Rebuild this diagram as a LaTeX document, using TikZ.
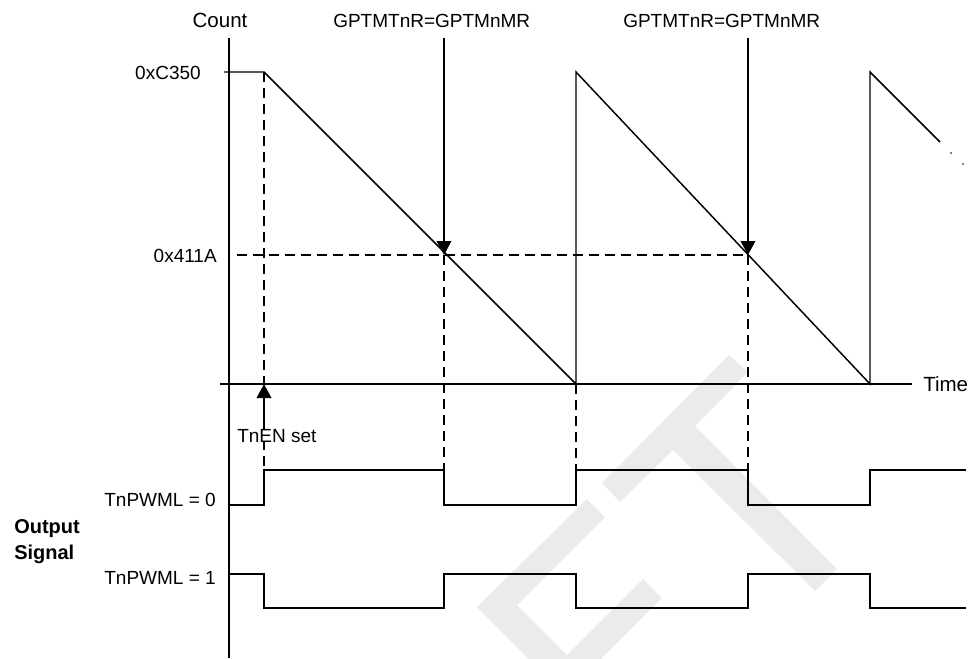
\documentclass[tikz,border=0pt]{standalone}
\usepackage{fontspec}
\setmainfont{Liberation Sans}
\usetikzlibrary{arrows.meta}
\definecolor{wm}{RGB}{235,235,235}
\begin{document}
\begin{tikzpicture}[x=0.75pt,y=-0.75pt,
  wave/.style={line width=1.1pt, line join=miter},
  guide/.style={line width=1.1pt, dash pattern=on 7.5pt off 4.5pt},
  marker/.style={line width=1.1pt, -{Triangle[length=10.5pt,width=11pt]}},
  lbl/.style={inner sep=0pt, font=\fontsize{14.25pt}{17pt}\selectfont},
  biglbl/.style={inner sep=0pt, font=\fontsize{15.4pt}{18pt}\selectfont},
  boldlbl/.style={inner sep=0pt, font=\bfseries\fontsize{15pt}{18pt}\selectfont}]
\useasboundingbox (0,0) rectangle (972,658);
\clip (0,0) rectangle (972,658);
% watermark
\fill[wm] (477,607) -- (587,499) -- (605,517) -- (517,605) -- (567,655)
  -- (643,579) -- (662,598) -- (565,695) -- cycle;
\fill[wm] (602,483) -- (729,355) -- (748,372) -- (695,426) -- (837,569)
  -- (815,591) -- (673,450) -- (620,502) -- cycle;
% key coordinates
\coordinate (cTop) at (229,38);
\coordinate (cBot) at (229,658);
\coordinate (tL) at (220,384);
\coordinate (tR) at (912,384);
\coordinate (tick) at (224,72);
\coordinate (s0) at (264,72);
\coordinate (z1) at (576,384);
\coordinate (p1) at (576,72);
\coordinate (z2) at (870,384);
\coordinate (p2) at (870,72);
\coordinate (e3) at (940,142);
\coordinate (m1) at (444,255);
\coordinate (m2) at (748,255);
\coordinate (m1top) at (444,38);
\coordinate (m2top) at (748,38);
\coordinate (hL) at (237,255);
\coordinate (en) at (264,384);
\coordinate (enTail) at (264,425);
% axes
\draw[wave] (cTop) -- (cBot);
\draw[wave] (tL) -- (tR);
% guides
\draw[guide] (s0) -- (264,470);
\draw[guide] (hL) -- (m2);
\draw[guide] (m1) -- (444,470);
\draw[guide] (z1) -- (576,470);
\draw[guide] (m2) -- (748,470);
% sawtooth
\draw[wave] (tick) -- (s0) -- (z1) -- (p1) -- (z2) -- (p2) -- (e3);
\fill (951,153) circle[radius=0.9];
\fill (963,164) circle[radius=0.9];
% match markers
\draw[marker] (m1top) -- (m1);
\draw[marker] (m2top) -- (m2);
% TnEN set
\node[lbl, anchor=base west, fill=white] (ten) at (237,442) {TnEN set};
\draw[marker] (enTail) -- (en);
% PWM outputs
\draw[wave] (229,505) -- (264,505) -- (264,470) -- (444,470) -- (444,505) -- (576,505)
  -- (576,470) -- (748,470) -- (748,505) -- (870,505) -- (870,470) -- (966,470);
\draw[wave] (229,574) -- (264,574) -- (264,608) -- (444,608) -- (444,574) -- (576,574)
  -- (576,608) -- (748,608) -- (748,574) -- (870,574) -- (870,608) -- (966,608);
% labels
\node[biglbl, anchor=base] (count) at (220,27) {Count};
\node[lbl, anchor=base west] (g1) at (333,27) {GPTMTnR=GPTMnMR};
\node[lbl, anchor=base west] (g2) at (623,27) {GPTMTnR=GPTMnMR};
\node[lbl, anchor=base east] (c350) at (201,79) {0xC350};
\node[lbl, anchor=base east] (c411) at (217,262) {0x411A};
\node[biglbl, anchor=base west] (time) at (923,391) {Time};
\node[lbl, anchor=base east] (pw0) at (216,506) {TnPWML = 0};
\node[lbl, anchor=base east] (pw1) at (216,584) {TnPWML = 1};
\node[boldlbl, anchor=base west] (out1) at (14,533) {Output};
\node[boldlbl, anchor=base west] (out2) at (14,559) {Signal};
\end{tikzpicture}
\end{document}
